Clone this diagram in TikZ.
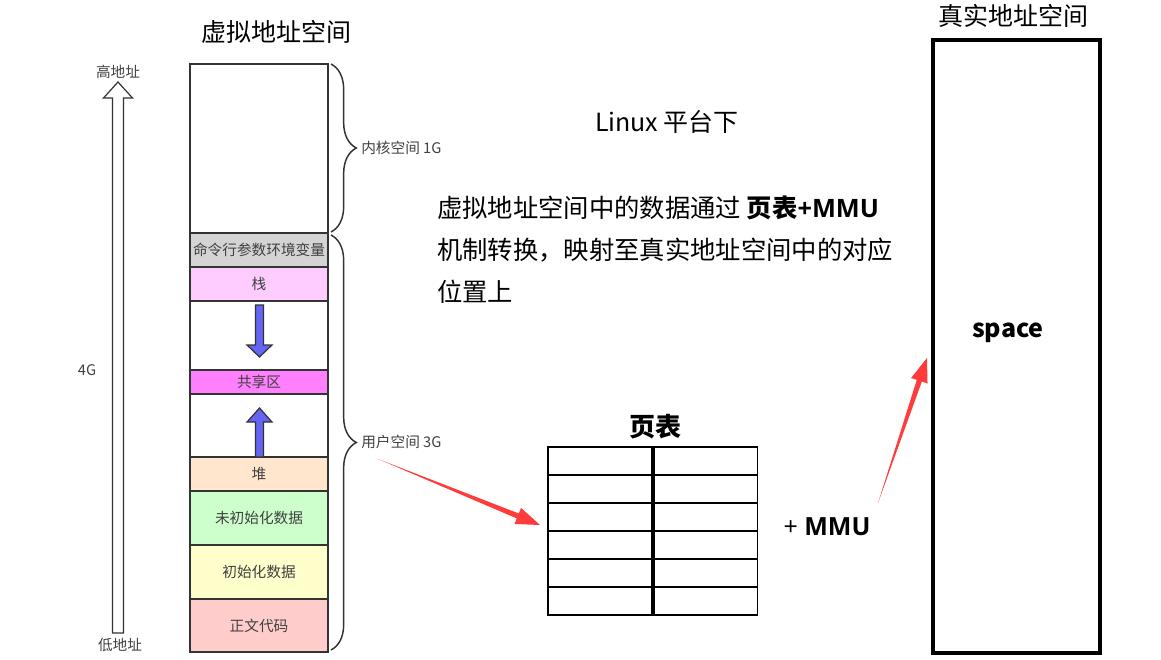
\documentclass[tikz,border=0pt]{standalone}
\usepackage{fontspec}
\setmainfont{Noto Sans CJK SC}
\newfontfamily\latinfont{Open Sans}
\usepackage{xcolor}
\usetikzlibrary{positioning,arrows.meta,decorations.pathreplacing,calc}

\definecolor{segline}{HTML}{333333}
\definecolor{labelgray}{HTML}{404040}
\definecolor{cmdgray}{HTML}{D4D4D4}
\definecolor{stackpink}{HTML}{FFCCFF}
\definecolor{sharedpink}{HTML}{FF80FF}
\definecolor{heappeach}{HTML}{FFE6CC}
\definecolor{bssgreen}{HTML}{CCFFCC}
\definecolor{datayellow}{HTML}{FFFFCC}
\definecolor{textred}{HTML}{FFCCCC}
\definecolor{growblue}{HTML}{6464F5}
\definecolor{mapred}{HTML}{FF3B3B}

\tikzset{
    seg/.style={draw=segline, line width=1.1pt, minimum width=103.5pt, inner sep=0pt,
        outer sep=0pt, font=\fontsize{11pt}{13pt}\selectfont, text=labelgray},
    small/.style={font=\fontsize{11pt}{13pt}\selectfont, text=labelgray, inner sep=0pt},
    big/.style={font=\fontsize{18.75pt}{22pt}\selectfont, inner sep=0pt},
    cell/.style={draw, line width=1.1pt, minimum width=78.75pt, minimum height=21pt,
        inner sep=0pt, outer sep=0pt},
    brace/.style={decorate, decoration={brace, amplitude=19pt}, draw=segline, line width=1.1pt},
    growarrow/.style={draw=segline, fill=growblue, line width=0.9pt, line join=miter},
}

% tapered red arrow from #1 to #2
\newcommand\maparrow[2]{%
    \coordinate (hb) at ($(#2)!18pt!(#1)$);
    \fill[mapred] (#1) -- ($(hb)!2pt!90:(#2)$) -- ($(hb)!6.5pt!90:(#2)$) -- (#2)
        -- ($(hb)!6.5pt!-90:(#2)$) -- ($(hb)!2pt!-90:(#2)$) -- cycle;
}

\begin{document}
\begin{tikzpicture}[x=0.75pt, y=-0.75pt]
    \useasboundingbox (0,0) rectangle (1161,660);

    % virtual address space
    \node[big] (vtitle) at (276,32) {虚拟地址空间};
    \node[seg, minimum height=126.75pt, anchor=north] (kernel) at (259,64) {};
    \node[seg, fill=cmdgray, minimum height=25.5pt, below=0pt of kernel] (cmdenv) {命令行参数环境变量};
    \node[seg, fill=stackpink, minimum height=25.5pt, below=0pt of cmdenv] (stack) {栈};
    \node[seg, minimum height=51.75pt, below=0pt of stack] (gapa) {};
    \node[seg, fill=sharedpink, minimum height=18pt, below=0pt of gapa] (shared) {共享区};
    \node[seg, minimum height=47.25pt, below=0pt of shared] (gapb) {};
    \node[seg, fill=heappeach, minimum height=25.5pt, below=0pt of gapb] (heap) {堆};
    \node[seg, fill=bssgreen, minimum height=40.5pt, below=0pt of heap] (bss) {未初始化数据};
    \node[seg, fill=datayellow, minimum height=40.5pt, below=0pt of bss] (data) {初始化数据};
    \node[seg, fill=textred, minimum height=39.75pt, below=0pt of data] (code) {正文代码};

    % growth of stack and heap
    \draw[growarrow] (255.5,305) -- (255.5,345) -- (247,345) -- (259.5,357)
        -- (272,345) -- (263.5,345) -- (263.5,305) -- cycle;
    \draw[growarrow] (255.5,457) -- (255.5,422) -- (247,422) -- (259.5,408)
        -- (272,422) -- (263.5,422) -- (263.5,457) -- cycle;

    % address direction
    \node[small] (high) at (118,72) {高地址};
    \node[small] (low) at (120,645) {低地址};
    \node[small] (fourg) at (87,370) {4G};
    \draw[draw=segline, fill=white, line width=0.9pt, line join=miter]
        (112.5,633) -- (112.5,98) -- (103.5,98) -- (118,82) -- (132.5,98)
        -- (123.5,98) -- (123.5,633) -- cycle;

    % kernel / user braces
    \draw[brace] (331,64) -- (331,232);
    \draw[brace] (331,235) -- (331,650);
    \node[small, anchor=west] (kernlabel) at (361,148) {内核空间 1G};
    \node[small, anchor=west] (userlabel) at (361,442) {用户空间 3G};

    % explanation
    \node[big] (platform) at (667,122) {Linux 平台下};
    \node[big, anchor=west, align=left, font=\fontsize{19pt}{31.5pt}\selectfont] (expl) at (437,250)
        {虚拟地址空间中的数据通过 \textbf{页表{\latinfont +MMU}}\\机制转换，映射至真实地址空间中的对应\\位置上};

    % page table
    \node[big, font=\bfseries\fontsize{19.5pt}{22pt}\selectfont] (pttitle) at (655,427) {页表};
    \foreach \i in {0,...,5} {
        \node[cell] (l\i) at (600.5,461+28*\i) {};
        \node[cell] (r\i) at (705,461+28*\i) {};
    }
    \draw[line width=3pt] (l0.north east) -- (l5.south east);
    \node[big, font=\latinfont\fontsize{18.75pt}{22pt}\selectfont] (mmu) at (827,527) {+ \textbf{MMU}};

    % real address space
    \node[big] (rtitle) at (1013,16) {真实地址空间};
    \node[draw, line width=3pt, minimum width=125.25pt, minimum height=459.75pt, inner sep=0pt] (real) at (1016.5,346.5) {};
    \node[big, font=\bfseries\fontsize{18.75pt}{22pt}\selectfont] (space) at (1008,333) {space};

    % mapping
    \coordinate (userout) at (378,459);
    \coordinate (ptin) at (540,525);
    \coordinate (mmuout) at (878,503);
    \coordinate (realin) at (927,358);
    \maparrow{userout}{ptin}
    \maparrow{mmuout}{realin}
\end{tikzpicture}
\end{document}
